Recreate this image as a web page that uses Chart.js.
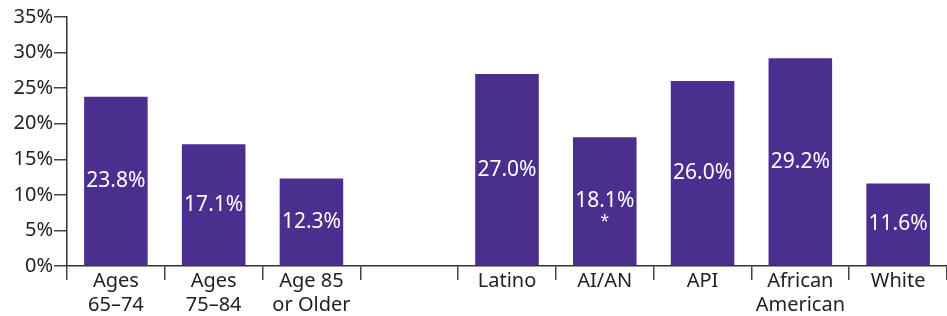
<!DOCTYPE html>
<html>
<head>
<meta charset="utf-8">
<script src="https://cdn.jsdelivr.net/npm/chart.js@4"></script>
<style>
  html, body { margin: 0; padding: 0; background: #fff; overflow: hidden; }
  #wrap { width: 947px; height: 316px; }
</style>
</head>
<body>
<div id="wrap"><canvas id="chart" width="947" height="316"></canvas></div>
<script>
// Categories (empty slot separates age groups from race/ethnicity groups)
const categories = [
    ['Ages', '65–74'],
    ['Ages', '75–84'],
    ['Age 85', 'or Older'],
    '',
    'Latino',
    'AI/AN',
    'API',
    ['African', 'American'],
    'White'
];

// Percent values
const values = [23.8, 17.1, 12.3, null, 27.0, 18.1, 26.0, 29.2, 11.6];

// Footnote marks shown under the value label
const notes = ['', '', '', '', '', '*', '', '', ''];

const yTicks = [0, 5, 10, 15, 20, 25, 30, 35];

const barColor = '#4a2f8f';
const fontFamily = '"Noto Sans", "Open Sans", sans-serif';

// Draws the white value labels in the middle of each bar
const valueLabels = {
    id: 'valueLabels',
    afterDatasetsDraw(chart) {
        const ctx = chart.ctx;
        const meta = chart.getDatasetMeta(0);
        ctx.save();
        ctx.fillStyle = '#ffffff';
        ctx.textAlign = 'center';
        ctx.textBaseline = 'middle';
        meta.data.forEach((bar, i) => {
            if (values[i] === null) return;
            const mid = (bar.y + bar.base) / 2;
            ctx.font = '21px ' + fontFamily;
            ctx.fillText(values[i].toFixed(1) + '%', bar.x, mid);
            if (notes[i]) {
                ctx.font = '16px ' + fontFamily;
                ctx.fillText(notes[i], bar.x, mid + 20);
            }
        });
        ctx.restore();
    }
};

const ctx = document.getElementById('chart').getContext('2d');
new Chart(ctx, {
    type: 'bar',
    data: {
        labels: categories,
        datasets: [{
            data: values,
            backgroundColor: barColor,
            barPercentage: 0.65,
            categoryPercentage: 1.0
        }]
    },
    options: {
        responsive: false,
        animation: false,
        layout: { padding: { top: 17, right: 0, left: 0, bottom: 0 } },
        plugins: {
            legend: { display: false },
            tooltip: { enabled: false }
        },
        scales: {
            x: {
                grid: {
                    offset: true,
                    drawOnChartArea: false,
                    tickLength: 14,
                    color: '#444',
                    lineWidth: 1.5
                },
                border: { display: true, color: '#333', width: 1.5 },
                ticks: {
                    color: '#222',
                    padding: -11,
                    maxRotation: 0,
                    autoSkip: false,
                    font: { family: fontFamily, size: 20, lineHeight: 1.2 }
                },
                afterFit(scale) { scale.height = 50; }
            },
            y: {
                min: 0,
                max: 35,
                afterBuildTicks(scale) {
                    scale.ticks = yTicks.map(v => ({ value: v }));
                },
                grid: {
                    drawOnChartArea: false,
                    tickLength: 13,
                    color: '#444',
                    lineWidth: 1.5
                },
                border: { display: true, color: '#333', width: 1.5 },
                ticks: {
                    color: '#222',
                    padding: 1,
                    font: { family: fontFamily, size: 20 },
                    callback: v => v + '%'
                },
                afterFit(scale) { scale.width = 67; }
            }
        }
    },
    plugins: [valueLabels]
});
</script>
</body>
</html>
